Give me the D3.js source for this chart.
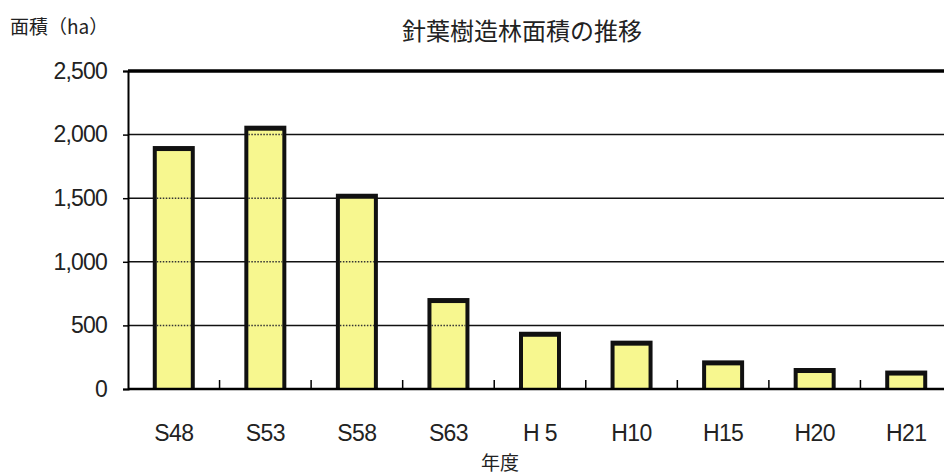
<!DOCTYPE html>
<html lang="ja">
<head>
<meta charset="utf-8">
<script src="https://cdn.jsdelivr.net/npm/d3@7"></script>
<style>
  html, body { margin: 0; padding: 0; background: #fff; }
  svg { display: block; }
  .num { font-family: "Liberation Sans", Arial, sans-serif; fill: #222; }
  .jp { font-family: "Noto Sans CJK JP", sans-serif; fill: #222; }
</style>
</head>
<body>
<svg id="chart" width="944" height="476"></svg>
<script>
// 針葉樹造林面積 (ha) by fiscal year
const years = ["S48", "S53", "S58", "S63", "H 5", "H10", "H15", "H20", "H21"];
const areas = [1910, 2070, 1535, 715, 450, 380, 225, 165, 145];
const yTicks = [0, 500, 1000, 1500, 2000, 2500];

const svg = d3.select("#chart");
const plotLeft = 128, plotRight = 952, plotTop = 71, plotBottom = 389;

const x = d3.scaleBand().domain(years).range([plotLeft, plotRight]).paddingInner(0).paddingOuter(0);
const y = d3.scaleLinear().domain([0, 2500]).range([plotBottom, plotTop]);
const barW = 42, cap = 5, side = 4;
const fmt = d3.format(",");

// horizontal gridlines
svg.append("g").selectAll("line").data(yTicks.filter(d => d > 0 && d < 2500)).join("line")
  .attr("x1", plotLeft).attr("x2", 944)
  .attr("y1", d => y(d)).attr("y2", d => y(d))
  .attr("stroke", "#111").attr("stroke-width", 1.5);

// bars: black frame with yellow fill
const bars = svg.append("g").selectAll("g").data(years.map((k, i) => ({ k, v: areas[i] }))).join("g");
bars.append("rect")
  .attr("x", d => x(d.k) + x.bandwidth() / 2 - barW / 2)
  .attr("width", barW)
  .attr("y", d => y(d.v))
  .attr("height", d => y(0) - y(d.v))
  .attr("fill", "#111");
bars.append("rect")
  .attr("x", d => x(d.k) + x.bandwidth() / 2 - barW / 2 + side)
  .attr("width", barW - 2 * side)
  .attr("y", d => y(d.v) + cap)
  .attr("height", d => Math.max(0, y(0) - y(d.v) - cap))
  .attr("fill", "#f7f78f");

// gridlines showing through the bars as dotted lines
bars.each(function(d) {
  const g = d3.select(this);
  yTicks.filter(t => t > 0 && y(t) > y(d.v) + cap + 1).forEach(t => {
    g.append("line")
      .attr("x1", x(d.k) + x.bandwidth() / 2 - barW / 2 + side)
      .attr("x2", x(d.k) + x.bandwidth() / 2 + barW / 2 - side)
      .attr("y1", y(t)).attr("y2", y(t))
      .attr("stroke", "#333").attr("stroke-width", 1.5)
      .attr("stroke-dasharray", "1.5,1.5");
  });
});

// top frame line
svg.append("line").attr("x1", plotLeft).attr("x2", 944).attr("y1", plotTop).attr("y2", plotTop)
  .attr("stroke", "#000").attr("stroke-width", 3.5);

// y axis
const yAxis = svg.append("g").attr("transform", `translate(${plotLeft},0)`)
  .call(d3.axisLeft(y).tickValues(yTicks).tickSize(5).tickPadding(16).tickFormat(fmt));
yAxis.select(".domain").attr("stroke", "#000").attr("stroke-width", 2);
yAxis.selectAll(".tick line").attr("stroke", "#000").attr("stroke-width", 1.5);
yAxis.selectAll(".tick text").attr("class", "num").attr("font-size", 23).attr("fill", "#222")
  .attr("letter-spacing", -0.8);

// x axis with category boundary ticks pointing up
const xAxis = svg.append("g").attr("transform", `translate(0,${plotBottom})`);
xAxis.append("line").attr("x1", plotLeft).attr("x2", 944).attr("stroke", "#000").attr("stroke-width", 2.5);
xAxis.selectAll(".sep").data(years.slice(1)).join("line").attr("class", "sep")
  .attr("x1", d => x(d)).attr("x2", d => x(d)).attr("y1", 0).attr("y2", -9)
  .attr("stroke", "#000").attr("stroke-width", 1.5);
xAxis.selectAll("text").data(years).join("text")
  .attr("class", "num").attr("font-size", 23).attr("letter-spacing", -0.6)
  .attr("x", d => x(d) + x.bandwidth() / 2).attr("y", 52)
  .attr("text-anchor", "middle").text(d => d);

// titles
svg.append("text").attr("class", "jp").attr("x", 522).attr("y", 40).attr("font-size", 24)
  .attr("text-anchor", "middle").text("針葉樹造林面積の推移");
svg.append("text").attr("class", "jp").attr("x", 10).attr("y", 34).attr("font-size", 19)
  .text("面積（ha）");
svg.append("text").attr("class", "jp").attr("x", 500).attr("y", 470).attr("font-size", 19)
  .attr("text-anchor", "middle").text("年度");
</script>
</body>
</html>
